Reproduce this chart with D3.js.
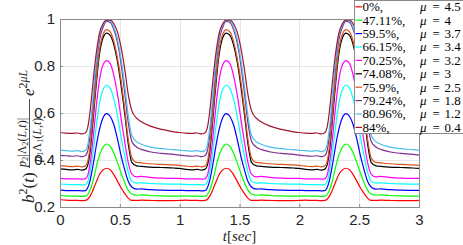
<!DOCTYPE html>
<html>
<head>
<meta charset="utf-8">
<script src="https://cdn.jsdelivr.net/npm/d3@7"></script>
<style>
  body { margin: 0; background: #fff; }
  svg { display: block; }
</style>
</head>
<body>
<svg width="463" height="245"></svg>
<script>
// time samples inside one period (sec); the three periods in the picture look identical
var tCycle = [0, 0.05, 0.10, 0.15, 0.18, 0.21, 0.23, 0.25, 0.27, 0.29, 0.31, 0.33, 0.36, 0.39, 0.42, 0.45, 0.48, 0.51, 0.54, 0.57, 0.60, 0.64, 0.68, 0.75, 0.85, 0.95, 1.0];
var nCycles = 3;

var percents = ["0%", "47.11%", "59.5%", "66.15%", "70.25%", "74.08%", "75.9%", "79.24%", "80.96%", "84%"];
var mus = ["4.5", "4", "3.7", "3.4", "3.2", "3", "2.5", "1.8", "1.2", "0.4"];
var colors = ["#ff0000", "#00ff00", "#0000ff", "#00ffff", "#ff00ff", "#000000", "#d95319", "#7e2f8e", "#4dbeee", "#a2142f"];

var sRed     = [.232,.229,.228,.228,.227,.228,.232,.245,.265,.290,.315,.338,.358,.365,.358,.338,.310,.282,.258,.238,.228,.228,.229,.228,.227,.227,.228];
var sGreen   = [.250,.247,.246,.246,.245,.246,.252,.270,.300,.340,.385,.420,.455,.468,.458,.430,.390,.345,.305,.272,.255,.250,.252,.249,.247,.246,.246];
var sBlue    = [.272,.270,.270,.270,.269,.270,.280,.310,.360,.420,.480,.530,.580,.597,.585,.550,.490,.420,.360,.310,.285,.276,.277,.274,.272,.271,.271];
var sCyan    = [.298,.296,.295,.295,.294,.295,.305,.345,.410,.490,.570,.640,.700,.718,.705,.660,.590,.500,.420,.350,.310,.302,.303,.300,.298,.297,.297];
var sMagenta = [.322,.320,.320,.320,.319,.320,.332,.380,.460,.560,.660,.740,.805,.823,.810,.760,.680,.580,.480,.390,.340,.328,.330,.326,.323,.322,.322];
var sBlack   = [.362,.360,.358,.360,.357,.360,.375,.430,.530,.650,.760,.850,.920,.940,.930,.890,.820,.720,.600,.470,.390,.375,.373,.370,.368,.366,.364];
var sOrange  = [.376,.374,.372,.374,.371,.374,.390,.450,.550,.670,.780,.870,.935,.955,.945,.905,.835,.740,.620,.490,.410,.390,.388,.384,.381,.379,.377];
var sPurple  = [.420,.418,.416,.418,.414,.418,.435,.500,.600,.720,.830,.910,.965,.990,.985,.955,.900,.810,.690,.560,.480,.455,.445,.435,.428,.424,.421];
var sLtBlue  = [.442,.440,.438,.440,.436,.440,.460,.530,.630,.750,.850,.930,.975,.993,.990,.965,.915,.830,.720,.590,.505,.478,.467,.456,.448,.444,.441];
var sDkRed   = [.517,.514,.513,.515,.511,.515,.535,.600,.700,.800,.880,.940,.980,.995,.995,.980,.945,.880,.790,.680,.610,.578,.563,.545,.530,.520,.517];

var seriesList = [sRed, sGreen, sBlue, sCyan, sMagenta, sBlack, sOrange, sPurple, sLtBlue, sDkRed];

var xTicks = [0, 0.5, 1, 1.5, 2, 2.5, 3];
var yTicks = [0.2, 0.4, 0.6, 0.8, 1];

var svg = d3.select("svg");
var pLeft = 60, pRight = 419, pTop = 19, pBottom = 207;

var x = d3.scaleLinear().domain([0, 3]).range([pLeft, pRight]);
var y = d3.scaleLinear().domain([0.2, 1]).range([pBottom, pTop]);

// grid
svg.append("g").selectAll("line").data(xTicks.slice(1, -1)).enter().append("line")
  .attr("x1", d => Math.round(x(d)) + 0.5).attr("x2", d => Math.round(x(d)) + 0.5)
  .attr("y1", pTop).attr("y2", pBottom)
  .attr("stroke", "#e6e6e6").attr("stroke-width", 1);
svg.append("g").selectAll("line").data(yTicks.slice(1, -1)).enter().append("line")
  .attr("x1", pLeft).attr("x2", pRight)
  .attr("y1", d => Math.round(y(d)) + 0.5).attr("y2", d => Math.round(y(d)) + 0.5)
  .attr("stroke", "#e6e6e6").attr("stroke-width", 1);

// curves
svg.append("clipPath").attr("id", "clip").append("rect")
  .attr("x", pLeft).attr("y", pTop).attr("width", pRight - pLeft).attr("height", pBottom - pTop);

var line = d3.line()
  .x(d => x(d[0]))
  .y(d => y(d[1]))
  .curve(d3.curveMonotoneX);

var unroll = function (vals) {
  var pts = [];
  for (var k = 0; k < nCycles; k++) {
    tCycle.forEach(function (t, i) {
      if (k > 0 && i === 0) return;
      pts.push([k + t, vals[i]]);
    });
  }
  return pts;
};

svg.append("g").attr("clip-path", "url(#clip)")
  .selectAll("path").data(seriesList).enter().append("path")
  .attr("d", d => line(unroll(d)))
  .attr("fill", "none")
  .attr("stroke", (d, i) => colors[i])
  .attr("stroke-width", 1.2)
  .attr("stroke-linejoin", "round");

// axes box
var xAxis = d3.axisBottom(x).tickValues(xTicks).tickSize(-3).tickPadding(7)
  .tickFormat(d => d);
var yAxis = d3.axisLeft(y).tickValues(yTicks).tickSize(-3).tickPadding(5)
  .tickFormat(d => d);

var gx = svg.append("g").attr("transform", `translate(0,${pBottom})`).call(xAxis);
var gy = svg.append("g").attr("transform", `translate(${pLeft},0)`).call(yAxis);
[gx, gy].forEach(function (g) {
  g.select(".domain").remove();
  g.selectAll("line").attr("stroke", "#8a8a8a");
  g.selectAll("text").attr("fill", "#262626")
    .style("font-family", "'Liberation Sans', Arial, sans-serif").style("font-size", "15px");
});
svg.append("rect")
  .attr("x", pLeft + 0.5).attr("y", pTop + 0.5)
  .attr("width", pRight - pLeft).attr("height", pBottom - pTop)
  .attr("fill", "none").attr("stroke", "#8a8a8a").attr("stroke-width", 1);

// x label
var xl = svg.append("text")
  .attr("x", (pLeft + pRight) / 2).attr("y", 241)
  .attr("text-anchor", "middle")
  .style("font-family", "'Liberation Serif', 'Times New Roman', serif")
  .style("font-size", "15px").attr("fill", "#262626");
xl.append("tspan").attr("font-style", "italic").text("t");
xl.append("tspan").text("[");
xl.append("tspan").attr("font-style", "italic").text("sec");
xl.append("tspan").text("]");

// y label, built along the rotated axis
var yl = svg.append("g")
  .attr("transform", "translate(34,203) rotate(-90)")
  .style("font-family", "'Liberation Serif', 'Times New Roman', serif")
  .attr("fill", "#262626");
var big = yl.append("text").attr("x", 0).attr("y", 0).style("font-size", "17px");
big.append("tspan").attr("font-style", "italic").text("b");
big.append("tspan").attr("dy", -7).style("font-size", "12px").text("2");
big.append("tspan").attr("dy", 7).text("(");
big.append("tspan").attr("font-style", "italic").text("t");
big.append("tspan").text(")");

var num = yl.append("text").attr("x", 36).attr("y", -8.5).style("font-size", "12px");
num.append("tspan").attr("font-style", "italic").text("p");
num.append("tspan").attr("dy", 2).style("font-size", "8.5px").text("2");
num.append("tspan").attr("dy", -2).text("|Λ");
num.append("tspan").attr("dy", 2).style("font-size", "8.5px").text("2");
num.append("tspan").attr("dy", -2).text("(");
num.append("tspan").attr("font-style", "italic").text("L");
num.append("tspan").text(",");
num.append("tspan").attr("font-style", "italic").text("t");
num.append("tspan").text(")|");

var den = yl.append("text").attr("x", 41).attr("y", 6.5).style("font-size", "12px");
den.append("tspan").attr("font-style", "italic").text("p");
den.append("tspan").attr("dy", 2).style("font-size", "8.5px").text("1");
den.append("tspan").attr("dy", -2).text("Λ");
den.append("tspan").attr("dy", 2).style("font-size", "8.5px").text("1");
den.append("tspan").attr("dy", -2).text("(");
den.append("tspan").attr("font-style", "italic").text("L");
den.append("tspan").text(",");
den.append("tspan").attr("font-style", "italic").text("t");
den.append("tspan").text(")");

yl.append("line").attr("x1", 35).attr("x2", 104).attr("y1", -4.5).attr("y2", -4.5)
  .attr("stroke", "#262626").attr("stroke-width", 0.8);

var ex = yl.append("text").attr("x", 107).attr("y", 0).style("font-size", "17px");
ex.append("tspan").attr("font-style", "italic").text("e");
ex.append("tspan").attr("dy", -7.5).style("font-size", "12px").text("2");
ex.append("tspan").attr("font-style", "italic").style("font-size", "12px").text("μL");

// legend
var serif = "'Liberation Serif', 'Times New Roman', serif";
var lg = svg.append("g");
lg.append("rect").attr("x", 354.5).attr("y", 0.5).attr("width", 120).attr("height", 133)
  .attr("fill", "#fff").attr("stroke", "#8a8a8a").attr("stroke-width", 1);
var rows = lg.selectAll("g.row").data(percents).enter().append("g")
  .attr("class", "row")
  .attr("transform", (d, i) => `translate(0,${6.8 + i * 13.4})`);
rows.append("line").attr("x1", 355.5).attr("x2", 362).attr("y1", 0).attr("y2", 0)
  .attr("stroke", (d, i) => colors[i]).attr("stroke-width", 1.2);
// one text per row, the mu column placed with tspans
var rt = rows.append("text").attr("y", 4.4)
  .style("font-family", serif).style("font-size", "13px").attr("fill", "#000");
rt.append("tspan").attr("x", 362.5).text(d => d + ",");
rt.append("tspan").attr("x", 420).style("font-style", "italic").text("μ");
rt.append("tspan").attr("x", 432.5).text("=");
rt.append("tspan").attr("x", 444.5).text((d, i) => mus[i]);
</script>
</body>
</html>
